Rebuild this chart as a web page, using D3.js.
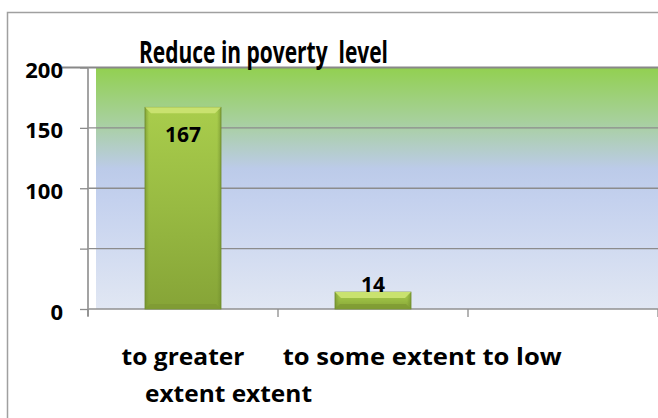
<!DOCTYPE html>
<html>
<head>
<meta charset="utf-8">
<script src="https://cdn.jsdelivr.net/npm/d3@7"></script>
<style>
  html, body { margin: 0; padding: 0; background: #fff; }
  svg { display: block; }
  text { font-family: "Open Sans", "Noto Sans", "DejaVu Sans", sans-serif; font-weight: 700; fill: #000; white-space: pre; }
</style>
</head>
<body>
<svg id="chart" width="658" height="418"></svg>
<script>
// ---- data ----
const title = "Reduce in poverty  level";
const categories = ["to greater extent", "to some extent", "to low extent"];
const values = [167, 14, 0];
const valueLabels = ["167", "14", ""];
const yTicks = [0, 50, 100, 150, 200];
const yTickLabels = ["0", "", "100", "150", "200"];
const xLabelLine1 = ["to greater", "to some extent to low"];
const xLabelLine2 = ["extent extent"];

(function () {
// ---- layout ----
const W = 658, H = 418;
const svg = d3.select("#chart");
const pLeft = 88, pRight = 658, pTop = 67.5, pBottom = 309;
const FONT = "'Open Sans', 'Noto Sans', sans-serif";

const x = d3.scaleBand().domain(categories).range([pLeft, pRight]).paddingInner(0.6).paddingOuter(0.3);
const y = d3.scaleLinear().domain([0, 200]).range([pBottom, pTop]);

const defs = svg.append("defs");
const wallGrad = defs.append("linearGradient").attr("id", "wall").attr("x1", 0).attr("y1", 0).attr("x2", 0).attr("y2", 1);
[[0, "#92d050"], [0.22, "#a7d09c"], [0.42, "#bccbe9"], [0.55, "#c4d1ee"], [1, "#e1e7f3"]]
  .forEach(([o, c]) => wallGrad.append("stop").attr("offset", o).attr("stop-color", c));

const barGrad = defs.append("linearGradient").attr("id", "barBody").attr("x1", 0).attr("y1", 0).attr("x2", 0).attr("y2", 1);
[[0, "#a9cd4c"], [0.5, "#98ba42"], [1, "#86a437"]]
  .forEach(([o, c]) => barGrad.append("stop").attr("offset", o).attr("stop-color", c));
const sideGrad = defs.append("linearGradient").attr("id", "barSide").attr("x1", 0).attr("y1", 0).attr("x2", 1).attr("y2", 0);
[[0, "#6f8c2c", 1], [1, "#6f8c2c", 0]]
  .forEach(([o, c, a]) => sideGrad.append("stop").attr("offset", o).attr("stop-color", c).attr("stop-opacity", a));
const sideGradR = defs.append("linearGradient").attr("id", "barSideR").attr("x1", 1).attr("y1", 0).attr("x2", 0).attr("y2", 0);
[[0, "#6f8c2c", 1], [1, "#6f8c2c", 0]]
  .forEach(([o, c, a]) => sideGradR.append("stop").attr("offset", o).attr("stop-color", c).attr("stop-opacity", a));

// outer chart border
svg.append("path")
  .attr("d", `M7.5,${H + 2} L7.5,12.5 L${W + 2},12.5`)
  .attr("fill", "none").attr("stroke", "#a0a0a0").attr("stroke-width", 1.5);

// back wall
svg.append("rect")
  .attr("x", 96).attr("y", y(200)).attr("width", pRight - 96).attr("height", y(0) - y(200))
  .attr("fill", "url(#wall)");

// gridlines
svg.append("g").selectAll("line").data(yTicks.filter(d => d !== 200 && d !== 0)).join("line")
  .attr("x1", pLeft).attr("x2", pRight).attr("y1", d => y(d)).attr("y2", d => y(d))
  .attr("stroke", "#8c8c8c").attr("stroke-width", 1.3);
// top wall edge (200)
svg.append("line").attr("x1", 62).attr("x2", pRight).attr("y1", y(200)).attr("y2", y(200))
  .attr("stroke", "#888").attr("stroke-width", 2.2);
// floor line (0)
svg.append("line").attr("x1", pLeft).attr("x2", pRight).attr("y1", y(0)).attr("y2", y(0))
  .attr("stroke", "#909090").attr("stroke-width", 1.6);

// y axis
const yAxis = svg.append("g").attr("transform", `translate(${pLeft},0)`)
  .call(d3.axisLeft(y).tickValues(yTicks).tickFormat((d, i) => yTickLabels[i]).tickSize(8).tickPadding(25 - 8));
yAxis.select(".domain").attr("d", `M0,${y(200)}V${y(0) + 7}`).attr("stroke", "#999").attr("stroke-width", 1.8);
yAxis.selectAll(".tick line").attr("stroke", "#8c8c8c").attr("stroke-width", 1.3);
yAxis.attr("font-family", null).attr("font-size", null);
yAxis.selectAll(".tick text")
  .attr("dy", null).attr("y", 10)
  .style("font-family", FONT).style("font-weight", "700").style("font-size", "22px")
  .attr("fill", "#000");

// x axis ticks at category boundaries
const boundaries = d3.range(categories.length + 1).map(i => pLeft + i * x.step());
svg.append("g").selectAll("line").data(boundaries).join("line")
  .attr("x1", d => d).attr("x2", d => d).attr("y1", y(0)).attr("y2", y(0) + 8)
  .attr("stroke", "#8c8c8c").attr("stroke-width", 1.3);

// bars
const bw = x.bandwidth();
const bars = svg.append("g").selectAll("g").data(categories.map((c, i) => ({ c, v: values[i], label: valueLabels[i] })).filter(d => d.v > 0)).join("g");
bars.append("rect")
  .attr("x", d => x(d.c)).attr("y", d => y(d.v)).attr("width", bw).attr("height", d => y(0) - y(d.v))
  .attr("fill", "url(#barBody)").attr("stroke", "#6d892c").attr("stroke-width", 0.8);
bars.append("rect")
  .attr("x", d => x(d.c)).attr("y", d => y(d.v)).attr("width", 4).attr("height", d => y(0) - y(d.v))
  .attr("fill", "url(#barSide)").attr("opacity", 0.6);
bars.append("rect")
  .attr("x", d => x(d.c) + bw - 4).attr("y", d => y(d.v)).attr("width", 4).attr("height", d => y(0) - y(d.v))
  .attr("fill", "url(#barSideR)").attr("opacity", 0.6);
// top bevel
bars.append("path")
  .attr("d", d => { const x0 = x(d.c), y0 = y(d.v), b = 6; return `M${x0},${y0}H${x0 + bw}L${x0 + bw - b},${y0 + b}H${x0 + b}Z`; })
  .attr("fill", "#c9e26f");
// bottom bevel
bars.append("path")
  .attr("d", d => { const x0 = x(d.c), y1 = y(0), b = Math.min(5, (y(0) - y(d.v)) / 3); return `M${x0},${y1}H${x0 + bw}L${x0 + bw - b},${y1 - b}H${x0 + b}Z`; })
  .attr("fill", "#7e9a33").attr("opacity", 0.8);
// value labels
bars.append("text")
  .attr("x", d => x(d.c) + bw / 2)
  .attr("y", d => (y(0) - y(d.v) > 60 ? y(d.v) + 35 : y(d.v)))
  .attr("text-anchor", "middle").style("font-size", "21px")
  .text(d => d.label);

// title
svg.append("text").attr("x", 139).attr("y", 63).style("font-size", "30px")
  .attr("textLength", 249).attr("lengthAdjust", "spacingAndGlyphs")
  .text(title);

// category labels
const c0 = x(categories[0]);
const lab = (t, xx, yy, len) => svg.append("text").attr("x", xx).attr("y", yy).style("font-size", "23px")
  .attr("textLength", len).attr("lengthAdjust", "spacingAndGlyphs").text(t);
lab(xLabelLine1[0], c0 + bw / 2 - 61.5, 365, 123);
lab(xLabelLine1[1], boundaries[1] + 4.7, 365, 279);
lab(xLabelLine2[0], c0, 401.5, 167);
})();
</script>
</body>
</html>
